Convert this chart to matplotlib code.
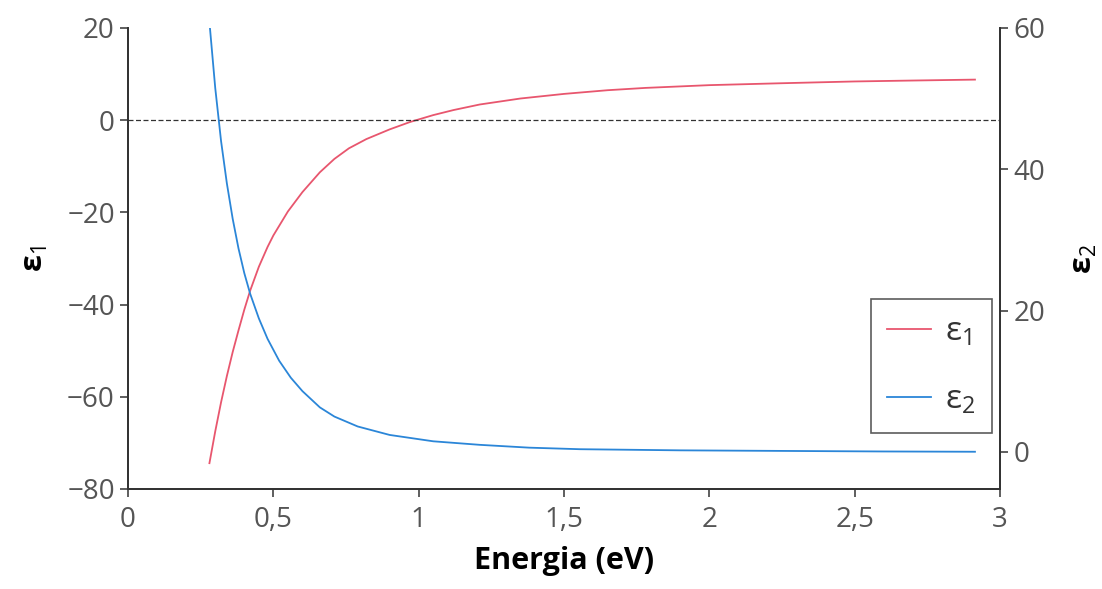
import matplotlib
matplotlib.use("Agg")
import matplotlib.pyplot as plt

plt.rcParams['font.family'] = ['Open Sans', 'DejaVu Sans']
plt.rcParams['mathtext.fontset'] = 'custom'
plt.rcParams['mathtext.rm'] = 'Open Sans'
plt.rcParams['mathtext.it'] = 'Open Sans'
plt.rcParams['mathtext.bf'] = 'Open Sans:bold'

# eps1 (left axis)
e1_x = [0.280, 0.300, 0.320, 0.340, 0.360, 0.380, 0.400, 0.420, 0.450,
        0.480, 0.500, 0.550, 0.600, 0.660, 0.710, 0.760, 0.820, 0.900,
        0.970, 1.050, 1.120, 1.210, 1.350, 1.500, 1.650, 1.780, 2.000,
        2.240, 2.500, 2.700, 2.914]
e1_y = [-74.4, -67.5, -61.2, -55.5, -50.3, -45.6, -41.1, -37.0, -31.8,
        -27.5, -25.0, -19.8, -15.6, -11.3, -8.4, -6.1, -4.1, -2.0,
        -0.4, 1.1, 2.2, 3.4, 4.7, 5.7, 6.5, 7.0, 7.6,
        8.0, 8.4, 8.6, 8.8]

# eps2 (right axis)
e2_x = [0.282, 0.300, 0.320, 0.340, 0.360, 0.380, 0.400, 0.420, 0.450,
        0.480, 0.520, 0.560, 0.600, 0.660, 0.710, 0.790, 0.900, 1.050,
        1.210, 1.380, 1.555, 1.900, 2.243, 2.600, 2.914]
e2_y = [59.9, 51.5, 44.0, 38.0, 33.0, 28.8, 25.3, 22.4, 18.9,
        16.0, 12.9, 10.5, 8.6, 6.3, 5.0, 3.6, 2.4, 1.5,
        1.0, 0.6, 0.38, 0.22, 0.14, 0.06, 0.02]

xticks = [0, 0.5, 1, 1.5, 2, 2.5, 3]
xtick_labels = ['0', '0,5', '1', '1,5', '2', '2,5', '3']

red = '#e8566e'
blue = '#2b86d8'
grey = '#555555'

fig = plt.figure(figsize=(11.02, 5.89), dpi=100)
ax = fig.add_axes([0.1162, 0.1698, 0.7912, 0.7827])
ax2 = ax.twinx()

l1, = ax.plot(e1_x, e1_y, color=red, lw=1.3)
l2, = ax2.plot(e2_x, e2_y, color=blue, lw=1.3)
ax.axhline(0, color='#333333', lw=0.9, ls=(0, (4, 2)))

ax.set_xlim(0, 3)
ax.set_ylim(-80, 20)
ax2.set_ylim(-5.25, 60)
ax.set_yticks([-80, -60, -40, -20, 0, 20])
ax2.set_yticks([0, 20, 40, 60])
ax.set_xticks(xticks)
ax.set_xticklabels(xtick_labels)

for a in (ax, ax2):
    a.spines['top'].set_visible(False)
    for s in a.spines.values():
        s.set_color('#333333')
        s.set_linewidth(1.3)
    a.tick_params(colors='#333333', labelcolor=grey, labelsize=20,
                  length=6, width=1.1)
ax.tick_params(axis='x', pad=6)

ax.set_xlabel('Energia (eV)', fontsize=22, fontweight='bold', labelpad=9)
ax.set_ylabel('ε$_1$', fontsize=22, fontweight='bold', labelpad=12)
ax2.set_ylabel('ε$_2$', fontsize=22, fontweight='bold', labelpad=17)

leg = fig.legend([l1, l2], ['ε$_1$', 'ε$_2$'], loc='upper left',
                 bbox_to_anchor=(870.7 / 1102, 1 - 299 / 589),
                 borderaxespad=0, fontsize=24, frameon=True, fancybox=False,
                 handlelength=1.3, handletextpad=0.42, borderpad=0.5,
                 labelspacing=1.05)
leg.get_frame().set_edgecolor('#333333')
leg.get_frame().set_linewidth(1.2)
for t in leg.get_texts():
    t.set_color('#333333')

fig.savefig('out.png', dpi=100)
